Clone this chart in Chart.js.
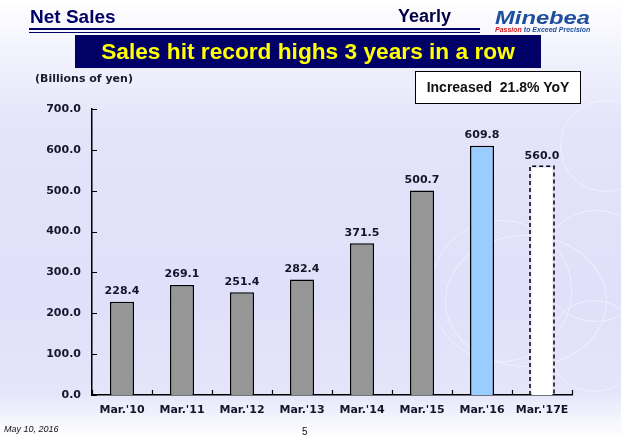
<!DOCTYPE html>
<html lang="en">
<head>
  <meta charset="UTF-8">
  <script src="https://cdn.jsdelivr.net/npm/chart.js"></script>
  <title>Net Sales</title>
  <style>
    html, body { margin: 0; padding: 0; }
    body {
      width: 621px; height: 438px; position: relative; overflow: hidden;
      background: linear-gradient(to bottom, #ffffff 0px, #f3f3fd 50px, #e3e3fa 130px, #e0e0fa 300px, #e4e4fa 390px, #ffffff 438px);
      font-family: "Liberation Sans", Arial, sans-serif;
    }
    .abs { position: absolute; }
    .ring { position: absolute; border: 1px solid rgba(255,255,255,0.45); border-radius: 50%; }
    #chart { position: absolute; left: 0; top: 0; z-index: 1; }
    .txt { z-index: 2; }
    #netSales { left: 30px; top: 6px; font-weight: bold; font-size: 19px; color: #000066; }
    #lines { left: 29px; top: 28px; width: 451px; height: 2px; border-top: 2px solid #000066; border-bottom: 1px solid #000066; }
    #yearly { left: 398px; top: 6px; font-weight: bold; font-size: 18px; color: #000044; }
    #logo { left: 495px; top: 7px; font-weight: 900; font-style: italic; font-size: 19px; color: #1d4f9c;
      transform: scaleX(1.25); transform-origin: left top; }
    #tag { left: 495px; top: 26px; font-weight: bold; font-style: italic; font-size: 7px; color: #1d4f9c; white-space: nowrap; }
    #tag span { color: #d42020; }
    #title { left: 75px; top: 35px; width: 466px; height: 33px; background: #000066; color: #ffff00;
      font-weight: bold; font-size: 22.7px; text-align: center; line-height: 33px; }
    #unit { left: 35px; top: 72px; font-family: "DejaVu Sans", Verdana, sans-serif; font-weight: bold; font-size: 11px; color: #1a1a2e; }
    #yoy { left: 415px; top: 71px; width: 164px; height: 31px; background: #ffffff; border: 1.5px solid #000;
      font-weight: bold; font-size: 14px; line-height: 31px; text-align: center; color: #111; white-space: pre; }
    #date { left: 4px; top: 424px; font-style: italic; font-size: 9px; color: #111; }
    #page { left: 302px; top: 426px; font-size: 10px; color: #111; }
  </style>
</head>
<body>
  <div class="ring" style="left:540px;top:210px;width:110px;height:110px;"></div>
  <div class="ring" style="left:548px;top:300px;width:90px;height:90px;"></div>
  <div class="ring" style="left:560px;top:100px;width:90px;height:90px;"></div>
  <div class="ring" style="left:430px;top:220px;width:140px;height:140px;"></div>
  <div class="ring" style="left:445px;top:235px;width:160px;height:130px;"></div>

  <div id="netSales" class="abs txt">Net Sales</div>
  <div id="lines" class="abs txt"></div>
  <div id="yearly" class="abs txt">Yearly</div>
  <div id="logo" class="abs txt">Minebea</div>
  <div id="tag" class="abs txt"><span>Passion</span> to Exceed Precision</div>
  <div id="title" class="abs txt">Sales hit record highs 3 years in a row</div>
  <div id="unit" class="abs txt">(Billions of yen)</div>
  <div id="yoy" class="abs txt">Increased  21.8% YoY</div>
  <div id="date" class="abs txt">May 10, 2016</div>
  <div id="page" class="abs txt">5</div>

  <canvas id="chart" width="621" height="438"></canvas>

<script>
  // dados do gráfico
  const categorias = ["Mar.'10", "Mar.'11", "Mar.'12", "Mar.'13", "Mar.'14", "Mar.'15", "Mar.'16", "Mar.'17E"];
  const vendas = [228.4, 269.1, 251.4, 282.4, 371.5, 500.7, 609.8, 560.0];
  const coresBarras = ['#969696', '#969696', '#969696', '#969696', '#969696', '#969696', '#99ccff', '#ffffff'];
  const ticksY = [0, 100, 200, 300, 400, 500, 600, 700];

  const fonteEixo = { family: 'DejaVu Sans', size: 11, weight: 'bold' };
  const corTexto = '#14142a';

  // marcas internas dos eixos + barra tracejada + rótulos
  const pluginExtras = {
    id: 'extras',
    afterDatasetsDraw(chart) {
      const ctx = chart.ctx;
      const area = chart.chartArea;
      const meta = chart.getDatasetMeta(0);

      // última barra (estimativa) com borda tracejada
      const ult = meta.data[meta.data.length - 1];
      ctx.save();
      ctx.strokeStyle = '#000';
      ctx.lineWidth = 1.5;
      ctx.setLineDash([4, 3]);
      ctx.beginPath();
      ctx.moveTo(ult.x - ult.width / 2, ult.base);
      ctx.lineTo(ult.x - ult.width / 2, ult.y);
      ctx.lineTo(ult.x + ult.width / 2, ult.y);
      ctx.lineTo(ult.x + ult.width / 2, ult.base);
      ctx.stroke();
      ctx.restore();

      // rótulos de valor
      ctx.save();
      ctx.font = 'bold 11px "DejaVu Sans"';
      ctx.fillStyle = corTexto;
      ctx.textAlign = 'center';
      ctx.textBaseline = 'bottom';
      meta.data.forEach(function (bar, i) {
        ctx.fillText(vendas[i].toFixed(1), bar.x, bar.y - 5);
      });
      ctx.restore();

      // ticks para dentro
      const sy = chart.scales.y;
      const sx = chart.scales.x;
      ctx.save();
      ctx.strokeStyle = '#000';
      ctx.lineWidth = 1.2;
      ctx.beginPath();
      sy.ticks.forEach(function (t, i) {
        const py = Math.round(sy.getPixelForTick(i)) + 0.5;
        ctx.moveTo(area.left, py);
        ctx.lineTo(area.left + 5, py);
      });
      for (let i = 0; i <= categorias.length; i++) {
        const px = Math.round(sx.getPixelForValue(i - 0.5)) + 0.5;
        ctx.moveTo(px, area.bottom);
        ctx.lineTo(px, area.bottom - 5);
      }
      ctx.stroke();
      ctx.restore();
    }
  };

  const dados = {
    labels: categorias,
    datasets: [{
      label: 'Net Sales',
      data: vendas,
      backgroundColor: coresBarras,
      borderColor: ['#000', '#000', '#000', '#000', '#000', '#000', '#000', 'rgba(0,0,0,0)'],
      borderWidth: 1.5,
      borderSkipped: 'bottom',
      categoryPercentage: 1.0,
      barPercentage: 0.4
    }]
  };

  const config = {
    type: 'bar',
    data: dados,
    plugins: [pluginExtras],
    options: {
      responsive: false,
      devicePixelRatio: 1,
      animation: false,
      layout: { padding: { top: 109, left: 0, right: 49, bottom: 0 } },
      plugins: { legend: { display: false }, tooltip: { enabled: false } },
      scales: {
        x: {
          grid: { display: false, offset: true },
          border: { display: true, color: '#000', width: 1.5 },
          ticks: { font: fonteEixo, color: corTexto, padding: 1, maxRotation: 0, autoSkip: false },
          afterFit(s) { s.height = 43; }
        },
        y: {
          min: 0,
          max: 700,
          grid: { display: false },
          border: { display: true, color: '#000', width: 1.5 },
          afterBuildTicks(s) { s.ticks = ticksY.map(function (v) { return { value: v }; }); },
          ticks: {
            font: fonteEixo, color: corTexto, padding: 3,
            callback: function (v) { return Number(v).toFixed(1); }
          },
          afterFit(s) { s.width = 92; }
        }
      }
    }
  };

  new Chart(document.getElementById('chart'), config);
</script>
</body>
</html>
